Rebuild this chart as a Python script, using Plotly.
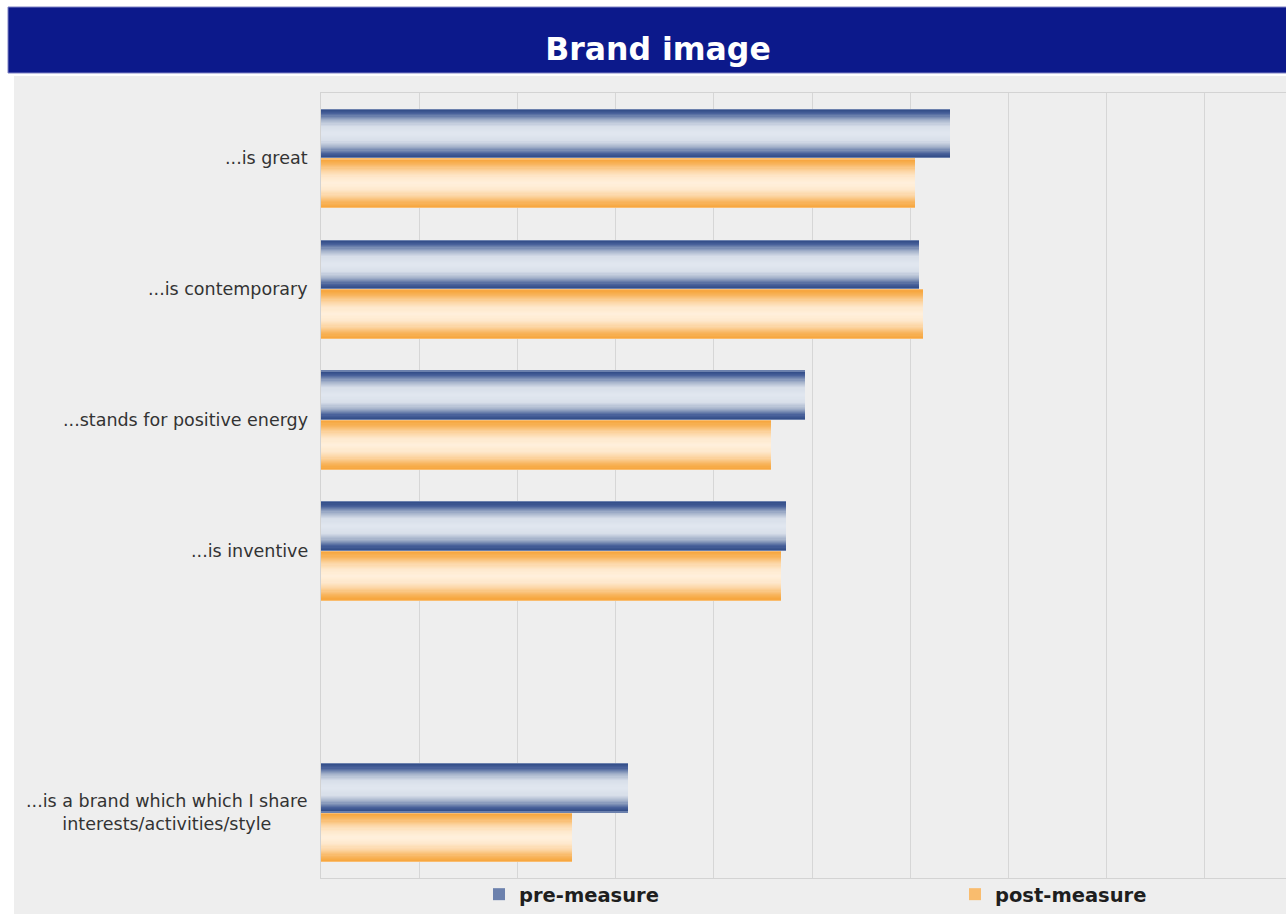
import plotly.graph_objects as go

# ---- data ----
categories = [
    "...is great",
    "...is contemporary",
    "...stands for positive energy",
    "...is inventive",
    " ",
    "...is a brand which which I share<br>interests/activities/style",
]
pre_measure = [64.1, 60.9, 49.3, 47.4, None, 31.3]
post_measure = [60.5, 61.3, 45.8, 46.8, None, 25.6]
series_names = ["pre-measure", "post-measure"]

# ---- styling ----
W, H = 1286, 914
BAR_W = 0.38          # thickness of one bar in category units
N_LAYERS = 22         # layers used to build the shaded bar fill

pre_stops = [(0.0, "#2b4581"), (0.2, "#48619a"), (0.45, "#a2b0c9"),
             (0.7, "#d7dee9"), (1.0, "#e1e7f0")]
post_stops = [(0.0, "#f6a235"), (0.24, "#f8b55e"), (0.5, "#fcd5a3"),
              (0.74, "#fee8cc"), (1.0, "#fff0dc")]


def hex_to_rgb(h):
    h = h.lstrip("#")
    return tuple(int(h[i:i + 2], 16) for i in (0, 2, 4))


def color_at(stops, t):
    for (t0, c0), (t1, c1) in zip(stops[:-1], stops[1:]):
        if t <= t1:
            f = (t - t0) / (t1 - t0) if t1 > t0 else 0
            a, b = hex_to_rgb(c0), hex_to_rgb(c1)
            r = [round(a[i] + (b[i] - a[i]) * f) for i in range(3)]
            return "rgb({},{},{})".format(*r)
    return "rgb({},{},{})".format(*hex_to_rgb(stops[-1][1]))


def px_x(p):
    return p / W


def px_y(p):
    return (H - p) / H


fig = go.Figure()

# each series is a stack of ever-thinner overlaid bars, giving a shaded fill
for name, values, stops, centre, leg in [
    (series_names[0], pre_measure, pre_stops, -BAR_W / 2, "legend"),
    (series_names[1], post_measure, post_stops, BAR_W / 2, "legend2"),
]:
    for k in range(N_LAYERS):
        w = BAR_W * (1 - k / N_LAYERS)
        col = color_at(stops, (k + 0.5) / N_LAYERS)
        fig.add_trace(go.Bar(
            y=categories,
            x=values,
            orientation="h",
            name=name,
            legend=leg,
            legendgroup=name,
            showlegend=(k == 0),
            width=w,
            offset=centre - w / 2,
            marker=dict(color=col if k else color_at(stops, 0.3), line=dict(width=0)),
            hoverinfo="skip" if k else None,
        ))

# category labels (centred multi-line text)
annotations = []
for c in categories:
    if c.strip():
        annotations.append(dict(
            x=0, xref="x", y=c, yref="y",
            xanchor="right", yanchor="middle", xshift=-11,
            text=c, showarrow=False, align="center",
            font=dict(family="DejaVu Sans", size=17.5, color="#333333"),
        ))

shapes = [
    # grey panel behind the chart
    dict(type="rect", xref="paper", yref="paper", layer="below",
         x0=px_x(14), x1=1, y0=0, y1=px_y(76),
         fillcolor="#eeeeee", line=dict(width=0)),
    # title banner
    dict(type="rect", xref="paper", yref="paper", layer="above",
         x0=px_x(8), x1=1.002, y0=px_y(73), y1=px_y(7),
         fillcolor="#0c198b", line=dict(color="#7f82c4", width=1)),
]

legend_style = dict(
    orientation="h",
    y=0, yanchor="bottom",
    bgcolor="rgba(0,0,0,0)",
    font=dict(family="DejaVu Sans", size=19.5, color="#1e1e1e", weight="bold"),
    itemclick=False, itemdoubleclick=False,
    itemwidth=30,
)

fig.update_layout(
    width=W, height=H,
    margin=dict(l=0, r=0, t=0, b=0),
    paper_bgcolor="white",
    plot_bgcolor="rgba(0,0,0,0)",
    barmode="overlay",
    bargap=0,
    shapes=shapes,
    annotations=annotations,
    title=dict(
        text="<b>Brand image</b>",
        x=px_x(658), xanchor="center",
        y=px_y(49), yanchor="middle",
        font=dict(family="DejaVu Sans", size=31.5, color="white"),
    ),
    xaxis=dict(
        domain=[px_x(321), 1],
        range=[0, (W - 321) / 9.82],
        dtick=10, tick0=0,
        showticklabels=False, ticks="",
        showgrid=True, gridcolor="#d6d6d6", gridwidth=1,
        zeroline=False,
        showline=True, linecolor="#d3d3d3", linewidth=1, mirror=True,
    ),
    yaxis=dict(
        domain=[px_y(878), px_y(93)],
        type="category",
        categoryorder="array", categoryarray=categories,
        autorange="reversed",
        showticklabels=False, ticks="",
        showgrid=False, zeroline=False,
        showline=True, linecolor="#d3d3d3", linewidth=1,
    ),
    legend=dict(legend_style, x=px_x(479), xanchor="left"),
    legend2=dict(legend_style, x=px_x(955), xanchor="left"),
    showlegend=True,
)

fig.write_html("out.html")
